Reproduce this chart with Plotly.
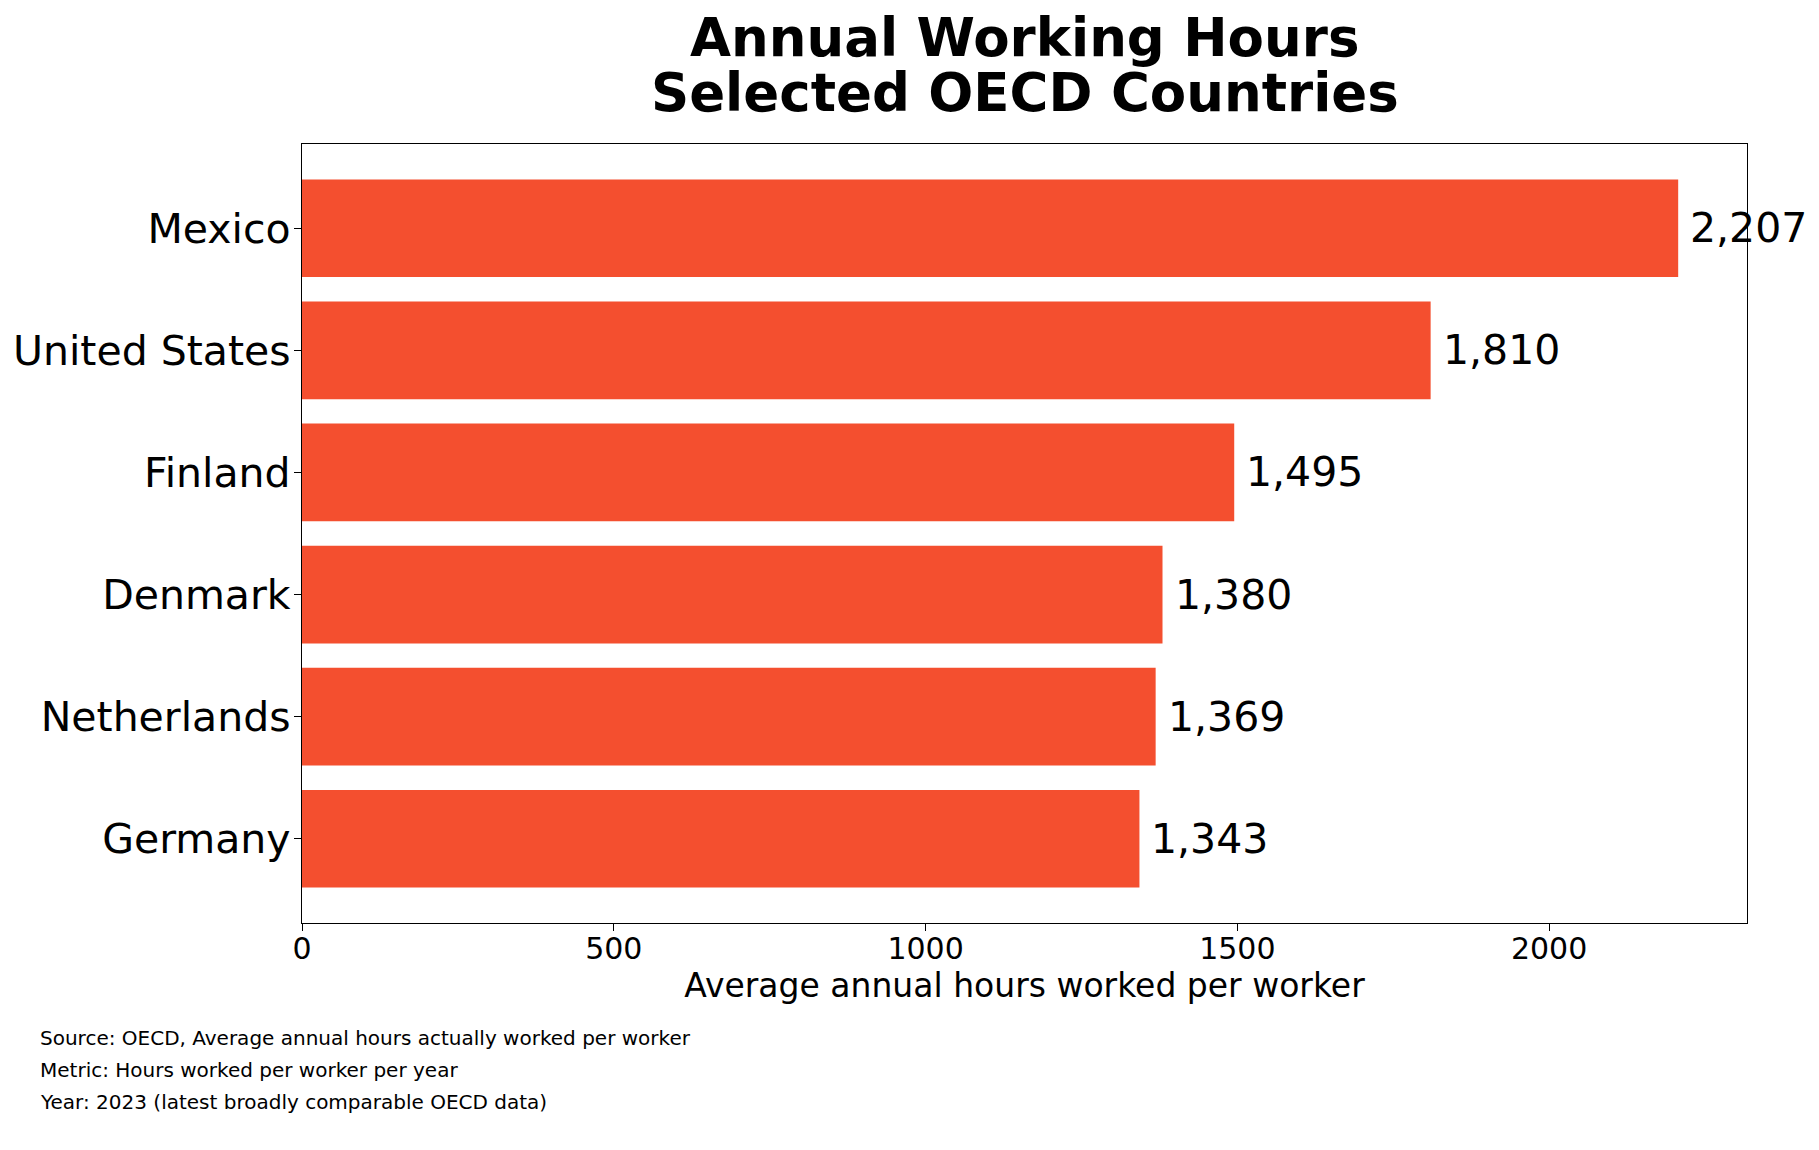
import plotly.graph_objects as go

# data
countries = ["Mexico", "United States", "Finland", "Denmark", "Netherlands", "Germany"]
hours = [2207, 1810, 1495, 1380, 1369, 1343]
x_ticks = [0, 500, 1000, 1500, 2000]
title_lines = ["Annual Working Hours", "Selected OECD Countries"]
notes = [
    "Source: OECD, Average annual hours actually worked per worker",
    "Metric: Hours worked per worker per year",
    "Year: 2023 (latest broadly comparable OECD data)",
]

FONT = "DejaVu Sans"
BAR_COLOR = "#F44F2F"

fig = go.Figure(go.Bar(
    x=hours,
    y=countries,
    orientation="h",
    width=0.8,
    marker=dict(color=BAR_COLOR, line=dict(width=0)),
    hoverinfo="x+y",
))

# value labels just right of each bar
for c, v in zip(countries, hours):
    fig.add_annotation(
        x=v, y=c, xref="x", yref="y",
        text=f"{v:,}", showarrow=False,
        xanchor="left", yanchor="middle", xshift=10,
        font=dict(family=FONT, size=41, color="black"),
    )

# two-line bold title (tighter line spacing than a <br> title gives)
for yy, line in zip([1.137, 1.066], title_lines):
    fig.add_annotation(
        x=0.5, y=yy, xref="paper", yref="paper",
        text=f"<b>{line}</b>", showarrow=False,
        xanchor="center", yanchor="middle",
        font=dict(family=FONT, size=53, color="black"),
    )

# footnotes
for yy, line in zip([-0.148, -0.189, -0.230], notes):
    fig.add_annotation(
        x=-0.183, y=yy, xref="paper", yref="paper",
        text=line, showarrow=False,
        xanchor="left", yanchor="middle",
        font=dict(family=FONT, size=20, color="black"),
    )

n = len(countries)
# the page body has an 8px margin, so the figure is 16px smaller than the window
fig.update_layout(
    width=1803,
    height=1134,
    margin=dict(l=294, r=64, t=136, b=219),
    paper_bgcolor="white",
    plot_bgcolor="white",
    showlegend=False,
    font=dict(family=FONT, color="black"),
    xaxis=dict(
        range=[0, max(hours) * 1.05],
        tickvals=x_ticks,
        automargin=False,
        ticks="outside", ticklen=7, tickwidth=1.4, tickcolor="black",
        ticklabelstandoff=-8,
        tickfont=dict(family=FONT, size=30, color="black"),
        showgrid=False, zeroline=False,
        showline=True, linecolor="black", linewidth=1.4, mirror=True,
        title=dict(text="Average annual hours worked per worker",
                   font=dict(family=FONT, size=33, color="black"), standoff=1),
    ),
    yaxis=dict(
        range=[n - 1 + 0.69, -0.69],
        automargin=False,
        ticks="outside", ticklen=7, tickwidth=1.4, tickcolor="black",
        ticklabelstandoff=-5,
        tickfont=dict(family=FONT, size=41, color="black"),
        showgrid=False, zeroline=False,
        showline=True, linecolor="black", linewidth=1.4, mirror=True,
    ),
)

fig.write_html("out.html")
